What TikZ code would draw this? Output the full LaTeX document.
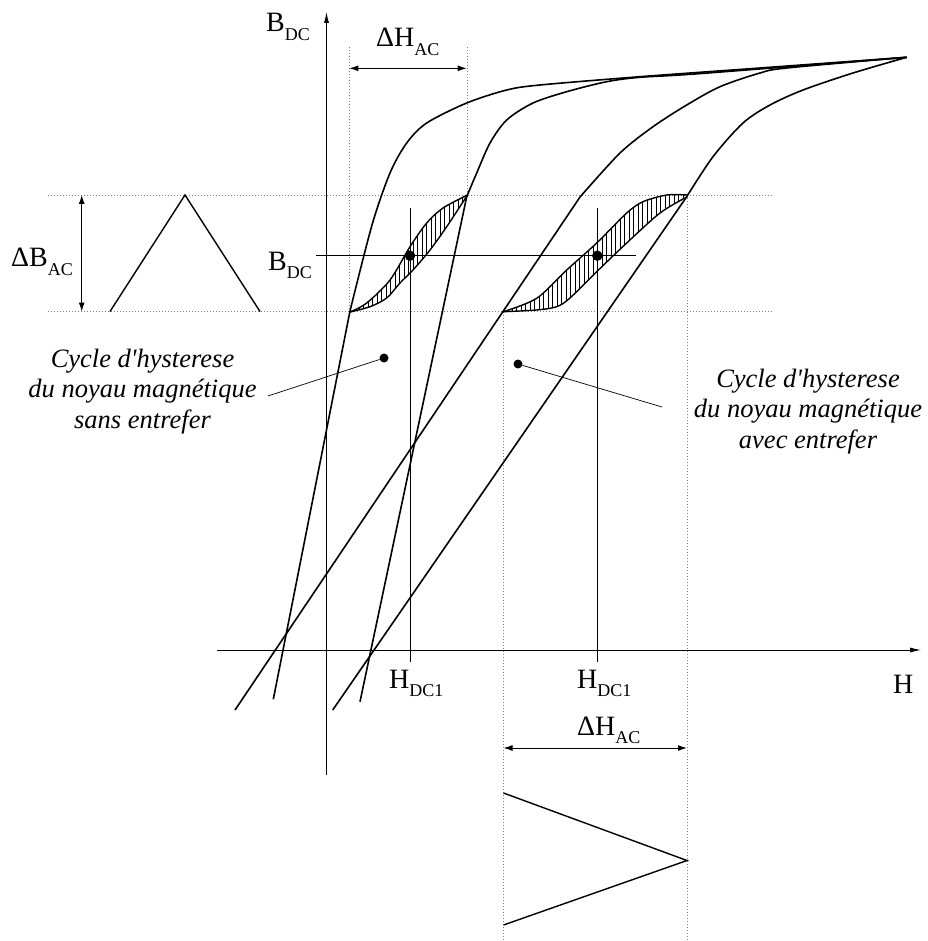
\documentclass[tikz,border=0pt]{standalone}
\usepackage{fontspec}
\setmainfont{Liberation Serif}[Ligatures=TeXOff]
\usetikzlibrary{arrows.meta}
\newcommand{\sublbl}[2]{#1\raisebox{-0.3em}{\fontsize{18}{18}\selectfont #2}}
\begin{document}
\begin{tikzpicture}[x=1pt,y=-1pt,
  curve/.style={line width=1.6pt, line join=round},
  loopline/.style={line width=1.4pt, line join=round},
  thinline/.style={line width=0.7pt},
  axisline/.style={line width=0.8pt},
  guide/.style={gray, line width=0.8pt, dash pattern=on 0.9pt off 2.1pt},
  dimarrow/.style={line width=1pt, {Latex[length=9pt,width=6pt]}-{Latex[length=9pt,width=6pt]}},
  lbl/.style={font=\fontsize{28}{32}\selectfont, inner sep=0pt, anchor=base west},
  caption/.style={font=\fontsize{26.5}{30.7}\selectfont\itshape, align=center, inner sep=0pt},
  hatch/.style={line width=0.6pt},
  dotmark/.style={circle, fill=black, inner sep=0pt, minimum size=10.5pt},
  ptrdot/.style={circle, fill=black, inner sep=0pt, minimum size=9pt},
  wave/.style={line width=1.4pt, line join=miter},
]
\useasboundingbox (0,0) rectangle (927,941);

% guides (dotted)
\coordinate (gh1a) at (48,195);  \coordinate (gh1b) at (772,195);
\coordinate (gh2a) at (48,311.5); \coordinate (gh2b) at (772,311.5);
\coordinate (gv1a) at (349.3,47); \coordinate (gv1b) at (349.3,311.5);
\coordinate (gv2a) at (467,47);   \coordinate (gv2b) at (467,195);
\coordinate (gv3a) at (503.5,311.5); \coordinate (gv3b) at (503.5,941);
\coordinate (gv4a) at (687,195);  \coordinate (gv4b) at (687,941);
\draw[guide] (gh1a) -- (gh1b);
\draw[guide] (gh2a) -- (gh2b);
\draw[guide] (gv1a) -- (gv1b);
\draw[guide] (gv2a) -- (gv2b);
\draw[guide] (gv3a) -- (gv3b);
\draw[guide] (gv4a) -- (gv4b);

% axes
\coordinate (vbot) at (326.5,775);
\coordinate (vtop) at (326.5,12);
\draw[axisline,-{Latex[length=11pt,width=5pt]}] (vbot) -- (vtop);
\coordinate (hleft) at (217,650);
\coordinate (hright) at (921,650);
\draw[axisline,-{Latex[length=11pt,width=5pt]}] (hleft) -- (hright);

% thin reference lines
\coordinate (bl1) at (316,255.7); \coordinate (bl2) at (636,255.7);
\draw[thinline] (bl1) -- (bl2);
\coordinate (hv1a) at (410,208); \coordinate (hv1b) at (410,662);
\draw[thinline] (hv1a) -- (hv1b);
\coordinate (hv2a) at (597.3,208); \coordinate (hv2b) at (597.3,662);
\draw[thinline] (hv2a) -- (hv2b);

% hatching of minor loops
\begin{scope}
\clip plot[smooth] coordinates {(350,312) (366.7,303) (390,280) (410,246.7) (426.7,223) (443,208) (467.5,195)}
  -- plot[smooth] coordinates {(467.5,195) (446.7,226.7) (430,250) (413,270) (400,283) (386.7,298) (370,306.7) (350,312)} -- cycle;
\foreach \x in {350,354.5,...,470} \draw[hatch] (\x,190) -- (\x,316);
\end{scope}
\begin{scope}
\clip plot[smooth] coordinates {(503.3,311.7) (536.7,298.3) (566.7,270) (596.7,243) (626.7,213) (643,201.7) (666.7,195) (687.3,195)}
  -- plot[smooth] coordinates {(687.3,196.7) (660,213) (626.7,243) (596.7,271.7) (570,298) (556.7,306.7) (536.7,310) (503.3,311.7)} -- cycle;
\foreach \x in {503,507.5,...,690} \draw[hatch] (\x,190) -- (\x,316);
\end{scope}
\draw[loopline] plot[smooth] coordinates {(350,312) (366.7,303) (390,280) (410,246.7) (426.7,223) (443,208) (467.5,195)};
\draw[loopline] plot[smooth] coordinates {(350,312) (370,306.7) (386.7,298) (400,283) (413,270) (430,250) (446.7,226.7) (467.5,195)};
\draw[loopline] plot[smooth] coordinates {(503.3,311.7) (536.7,298.3) (566.7,270) (596.7,243) (626.7,213) (643,201.7) (666.7,195) (687.3,195)};
\draw[loopline] plot[smooth] coordinates {(503.3,311.7) (536.7,310) (556.7,306.7) (570,298) (596.7,271.7) (626.7,243) (660,213) (687.3,196.7)};

% major loops
\draw[curve] (273.3,699.3) -- (350,311) plot[smooth] coordinates {(350,311) (372,225) (390,173) (406.7,143) (426.7,123) (466.7,103) (506.7,90) (540,85) (640,76.7) (760,68) (906.7,57.3)};
\draw[curve] (360,701.7) -- (466.7,196.7) plot[smooth] coordinates {(466.7,196.7) (476.7,173) (490,143) (506.7,120) (533,103) (566.7,91.7) (606.7,81.7) (640,77.3) (700,73.6) (906.7,57.3)};
\draw[curve] (235,710) -- (580,197) plot[smooth] coordinates {(580,197) (620,153) (653,126.7) (686.7,105) (720,86.7) (760,73) (786.7,68) (906.7,57.3)};
\draw[curve] (332.7,710) -- (686.7,196.7) plot[smooth] coordinates {(686.7,196.7) (713,156.7) (743,123) (770,105) (803,90) (853,73) (906.7,57.3)};

% waveforms
\draw[wave] (110,311.5) -- (185,195) -- (260,311.5);
\draw[wave] (503.5,793) -- (687,860.5) -- (503.5,925);

% dimension arrows
\coordinate (dhL) at (349.3,68.3); \coordinate (dhR) at (466.7,68.3);
\draw[dimarrow] (dhL) -- (dhR);
\coordinate (dbT) at (81.7,195); \coordinate (dbB) at (81.7,311.5);
\draw[dimarrow] (dbT) -- (dbB);
\coordinate (dh2L) at (503.5,748); \coordinate (dh2R) at (687,748);
\draw[dimarrow] (dh2L) -- (dh2R);

% dots
\node[dotmark] (dot1) at (410,255.7) {};
\node[dotmark] (dot2) at (597.3,255.7) {};
\node[ptrdot] (pdL) at (384,358) {};
\node[ptrdot] (pdR) at (518,364) {};

% labels
\node[lbl] (bdcTop) at (266,32) {\sublbl{B}{DC}};
\node[lbl] (dhTop) at (376,47) {\sublbl{ΔH}{AC}};
\node[lbl] (dbAC) at (11,266.7) {\sublbl{ΔB}{AC}};
\node[lbl] (bdcMid) at (268,270.5) {\sublbl{B}{DC}};
\node[lbl] (hdc1L) at (389,688) {\sublbl{H}{DC1}};
\node[lbl] (hdc1R) at (577,688) {\sublbl{H}{DC1}};
\node[lbl] (hlab) at (893,693) {H};
\node[lbl] (dhBot) at (577,735) {\sublbl{ΔH}{AC}};

% captions
\node[caption, anchor=base] (capL) at (142.5,428.5) {Cycle d'hysterese\\du noyau magnétique\\sans entrefer};
\node[caption, anchor=base] (capR) at (808,448.5) {Cycle d'hysterese\\du noyau magnétique\\avec entrefer};
\coordinate (pL) at (268,396);
\coordinate (pR) at (662,407);
\draw[thinline] (pL) -- (pdL);
\draw[thinline] (pdR) -- (pR);
\end{tikzpicture}
\end{document}
